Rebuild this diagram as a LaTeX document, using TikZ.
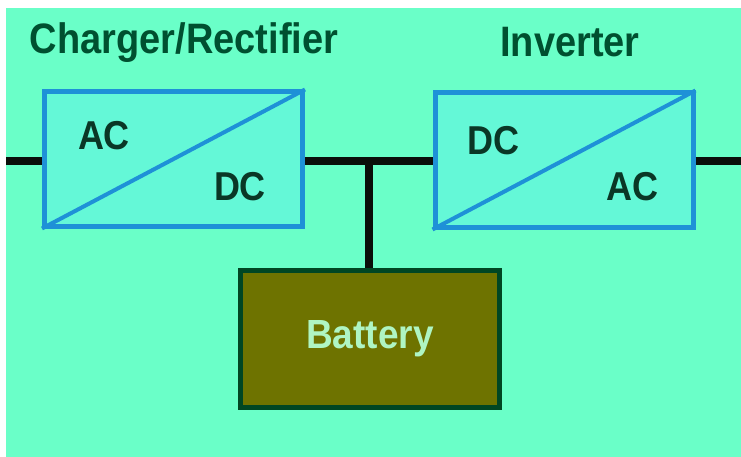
\documentclass[tikz,border=0pt]{standalone}
\usepackage{fontspec}
\setmainfont{Liberation Sans}
\definecolor{bgmint}{RGB}{106,255,200}
\definecolor{boxfill}{RGB}{100,248,215}
\definecolor{boxblue}{RGB}{30,145,215}
\definecolor{titlegreen}{RGB}{0,80,48}
\definecolor{labeldark}{RGB}{10,55,38}
\definecolor{busblack}{RGB}{10,15,10}
\definecolor{batfill}{RGB}{110,115,0}
\definecolor{batborder}{RGB}{0,70,35}
\definecolor{battext}{RGB}{175,245,195}
\tikzset{
  conv/.style={draw=boxblue, line width=5pt, fill=boxfill, minimum width=258pt, minimum height=134pt, inner sep=0pt},
  diag/.style={draw=boxblue, line width=4pt},
  title/.style={font=\bfseries\fontsize{38}{40}\selectfont, text=titlegreen, inner sep=0pt},
  acdc/.style={font=\bfseries\fontsize{36}{38}\selectfont, text=labeldark, inner sep=0pt},
  bus/.style={draw=busblack, line width=8.5pt},
  batbox/.style={draw=batborder, line width=5pt, fill=batfill, minimum width=259pt, minimum height=137pt, inner sep=0pt,
    font=\bfseries\fontsize{37}{39}\selectfont, text=battext}
}
\begin{document}
\begin{tikzpicture}[x=1pt, y=-1pt]
\useasboundingbox (0,0) rectangle (741,457);
\fill[white] (0,0) rectangle (741,457);
\fill[bgmint] (6,8) rectangle (741,457);
% titles
\node[title] (t1) at (184,43) {\scalebox{1}[1.12]{Charger/Rectifier}};
\node[title] (t2) at (570,42) {\scalebox{1}[1.12]{Inverter}};
% bus coordinates
\coordinate (lin) at (6,161);
\coordinate (rout) at (741,161);
\coordinate (j) at (369,161);
% converter boxes
\node[conv] (lb) at (173.5,159) {};
\node[conv] (rb) at (564,160) {};
\node[batbox] (bat) at (370,339) {\scalebox{1}[1.1]{Battery}};
% bus lines
\draw[bus] (lin) -- (lin -| lb.west);
\draw[bus] (lb.east |- j) -- (rb.west |- j);
\draw[bus] (rb.east |- rout) -- (rout);
\draw[draw=busblack, line width=8pt] (j) -- (j |- bat.north);
% diagonals
\draw[diag] (lb.south west) -- (lb.north east);
\draw[diag] (rb.south west) -- (rb.north east);
% labels
\node[acdc] (ac1) at (104,136) {\scalebox{1}[1.12]{AC}};
\node[acdc] (dc1) at (240,187) {\scalebox{1}[1.12]{DC}};
\node[acdc] (dc2) at (493,141) {\scalebox{1}[1.12]{DC}};
\node[acdc] (ac2) at (632,187) {\scalebox{1}[1.12]{AC}};
\end{tikzpicture}
\end{document}
